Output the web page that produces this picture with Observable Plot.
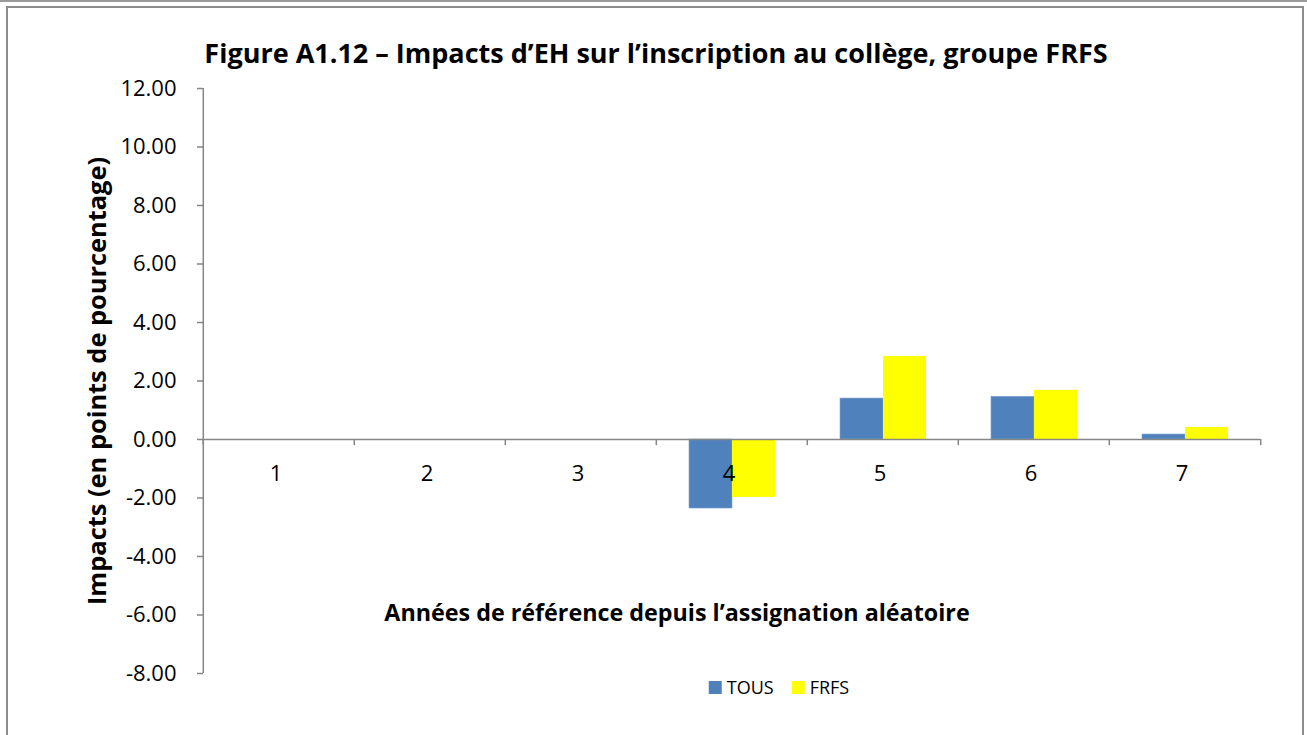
<!DOCTYPE html>
<html>
<head>
<meta charset="utf-8">
<script src="https://cdn.jsdelivr.net/npm/d3@7"></script>
<script src="https://cdn.jsdelivr.net/npm/@observablehq/plot@0.6"></script>
<style>
  html, body { margin: 0; padding: 0; background: #fff; overflow: hidden; }
  body { width: 1307px; height: 735px; position: relative; font-family: "Open Sans", Lato, sans-serif; }
  #topline { position: absolute; left: 0; top: 0; width: 1307px; height: 2px; background: #9a9a9a; }
  #box { position: absolute; left: 6px; top: 6px; width: 1298px; height: 760px; border: 2px solid #8c8c8c; box-sizing: border-box; }
  #chart { position: absolute; left: 0; top: 0; }
  .lbl { position: absolute; white-space: nowrap; color: #000; transform: translate(-50%, -50%); }
  #title { left: 656px; top: 52px; font-size: 27px; font-weight: bold; }
  #xtitle { left: 677px; top: 612px; font-size: 23.3px; font-weight: bold; }
  #legend { left: 788px; top: 687px; font-size: 18px; display: flex; align-items: center; }
  .sw { display: inline-block; width: 13px; height: 13px; margin-right: 5px; }
  .item { display: inline-flex; align-items: center; margin-right: 18px; }
</style>
</head>
<body>
<div id="topline"></div>
<div id="box"></div>
<div id="chart"></div>
<div id="title" class="lbl">Figure A1.12 – Impacts d’EH sur l’inscription au collège, groupe FRFS</div>
<div id="xtitle" class="lbl">Années de référence depuis l’assignation aléatoire</div>
<div id="legend" class="lbl"></div>
<script>
const years = [1, 2, 3, 4, 5, 6, 7];
const seriesNames = ["TOUS", "FRFS"];
const tous = [0, 0, 0, -2.36, 1.40, 1.46, 0.17];
const frfs = [0, 0, 0, -1.98, 2.84, 1.68, 0.41];
const yTicks = [-8, -6, -4, -2, 0, 2, 4, 6, 8, 10, 12];
const colors = ["#4F81BD", "#FFFF00"];

const data = years.flatMap((yr, i) => [
  {year: yr, series: "TOUS", value: tous[i]},
  {year: yr, series: "FRFS", value: frfs[i]}
]);

const W = 1307, H = 735, mL = 201, mR = 46, mT = 88, mB = 62;
const half = (W - mL - mR) / years.length / 2;
const axisColor = "#868686";

const chart = Plot.plot({
  width: W, height: H,
  marginLeft: mL, marginRight: mR, marginTop: mT, marginBottom: mB,
  style: {fontFamily: "'Open Sans', Lato, sans-serif", fontSize: "22px", color: "#000", background: "transparent"},
  fx: {domain: years, padding: 0, axis: null},
  x: {domain: seriesNames, paddingInner: 0, paddingOuter: 0.75, axis: null},
  y: {domain: [-8, 12], axis: null},
  color: {domain: seriesNames, range: colors},
  marks: [
    Plot.barY(data, {fx: "year", x: "series", y: "value", fill: "series", stroke: d => d.series === "TOUS" ? "#7fa3cf" : "none", strokeWidth: 0.6}),
    Plot.ruleY([0], {stroke: axisColor, strokeWidth: 1.5}),
    Plot.ruleX([years[0]], {fx: d => d, x: null, y1: yTicks[0], y2: yTicks[yTicks.length - 1], dx: -half, stroke: axisColor, strokeWidth: 1.5}),
    Plot.ruleX(years, {fx: d => d, x: null, y1: 0, y2: -0.21, dx: -half, stroke: axisColor, strokeWidth: 1.5}),
    Plot.ruleX([years[years.length - 1]], {fx: d => d, x: null, y1: 0, y2: -0.21, dx: half, stroke: axisColor, strokeWidth: 1.5}),
    Plot.axisY({ticks: yTicks, label: null, tickFormat: d => d.toFixed(2), tickSize: 6, tickPadding: 21, fontSize: 22, stroke: axisColor, strokeWidth: 1.5, fill: "#000"}),
    Plot.text(years, {fx: d => d, y: () => 0, text: d => String(d), dy: 34, dx: -3, fontSize: 22, fill: "#000"}),
    Plot.text(["Impacts (en points de pourcentage)"], {fx: () => years[0], frameAnchor: "left", textAnchor: "middle", dx: -106, rotate: -90, fontWeight: "bold", fontSize: 25.4, fill: "#000"})
  ]
});
document.getElementById("chart").appendChild(chart);

const legend = document.getElementById("legend");
seriesNames.forEach((s, i) => {
  const it = document.createElement("span");
  it.className = "item";
  it.innerHTML = `<span class="sw" style="background:${colors[i]}"></span>${s}`;
  legend.appendChild(it);
});
</script>
</body>
</html>
